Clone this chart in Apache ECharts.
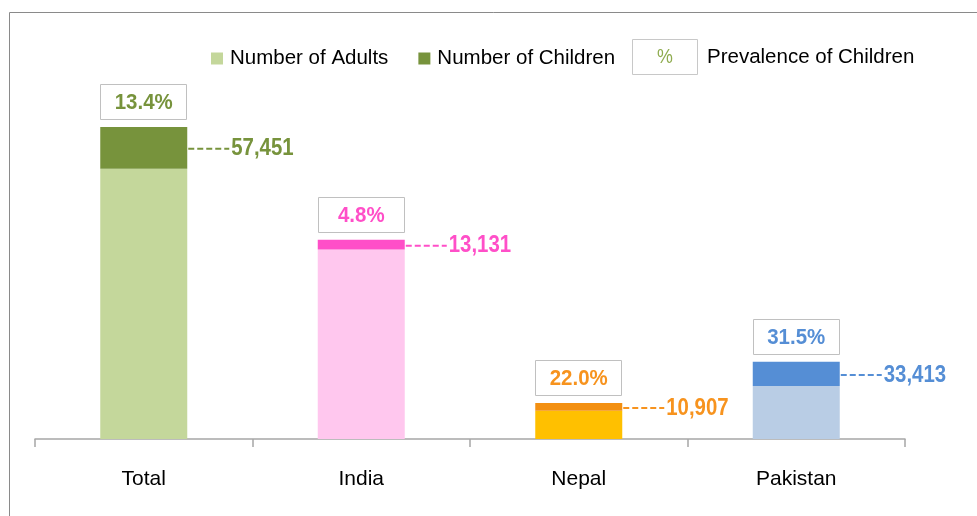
<!DOCTYPE html>
<html>
<head>
<meta charset="utf-8">
<script src="https://cdn.jsdelivr.net/npm/echarts@6/dist/echarts.min.js"></script>
<style>html,body{margin:0;padding:0;background:#fff;}#c{width:977px;height:516px;}</style>
</head>
<body>
<div id="c"></div>
<script>
var categories = ['Total', 'India', 'Nepal', 'Pakistan'];
var adults = [371288, 260432, 38670, 72660];
var children = [57451, 13131, 10907, 33413];
var prevalence = [13.4, 4.8, 22.0, 31.5];
var adultColors = ['#c4d79b', '#ffc7ee', '#ffc000', '#b9cde5'];
var childColors = ['#77933c', '#ff4fc8', '#f39012', '#558ed5'];
var labelColors = ['#77933c', '#ff4fc8', '#f7931e', '#558ed5'];

var FONT = '"Liberation Sans", Arial, sans-serif';
var chart = echarts.init(document.getElementById('c'));
function fmt(v){ return v.toLocaleString('en-US'); }

var option = {
  animation: false,
  backgroundColor: '#fff',
  grid: { left: 35, right: 72, top: 75, bottom: 77 },
  legend: {
    left: 211, top: 48, padding: 0,
    itemWidth: 12, itemHeight: 12, itemGap: 30,
    icon: 'rect',
    textStyle: { fontFamily: FONT, fontSize: 20.5, color: '#000', padding: [0, 0, 0, 2] },
    data: ['Number of Adults', 'Number of Children']
  },
  xAxis: {
    type: 'category',
    data: categories,
    axisLine: { show: true, lineStyle: { color: '#a6a6a6', width: 1.5 } },
    axisTick: { show: true, length: 8, lineStyle: { color: '#a6a6a6', width: 1.5 } },
    axisLabel: { fontFamily: FONT, fontSize: 21, color: '#000', margin: 30 }
  },
  yAxis: { type: 'value', min: 0, max: 500000, show: false, splitLine: { show: false } },
  graphic: [
    { type: 'rect', shape: { x: 9.5, y: 12.5, width: 1000, height: 1000 }, style: { fill: 'none', stroke: '#8a8a8a', lineWidth: 1 }, silent: true },
    { type: 'rect', shape: { x: 632.5, y: 39.5, width: 65, height: 35 }, style: { fill: '#fff', stroke: '#c8c8c8', lineWidth: 1 } },
    { type: 'text', x: 665, y: 57, scaleX: 0.85, style: { text: '%', x: 0, y: 0, align: 'center', verticalAlign: 'middle', fill: '#8fac4f', font: '21px ' + FONT } },
    { type: 'text', style: { text: 'Prevalence of Children', x: 707, y: 57, verticalAlign: 'middle', fill: '#000', font: '20.5px ' + FONT } }
  ],
  series: [
    {
      name: 'Number of Adults', type: 'bar', stack: 's', barWidth: '40%',
      itemStyle: { color: adultColors[0] },
      data: adults.map(function(v, i){ return { value: v, itemStyle: { color: adultColors[i] } }; })
    },
    {
      name: 'Number of Children', type: 'bar', stack: 's', barWidth: '40%',
      itemStyle: { color: childColors[0] },
      data: children.map(function(v, i){ return { value: v, itemStyle: { color: childColors[i] } }; })
    },
    {
      name: 'labels', type: 'custom', z: 10,
      data: categories.map(function(c, i){ return [i, adults[i], children[i], prevalence[i]]; }),
      renderItem: function(params, api){
        var i = api.value(0);
        var a = api.value(1), ch = api.value(2);
        var top = api.coord([i, a + ch]);
        var mid = api.coord([i, a + ch / 2]);
        var bw = api.size([1, 0])[0] * 0.4;
        var x0 = Math.round(top[0] - bw / 2) + 0.5, x1 = top[0] + bw / 2;
        var c = labelColors[i];
        var ty = Math.round(top[1] - 43) + 0.5;
        var ly = mid[1] + 1;
        return { type: 'group', children: [
          { type: 'rect', shape: { x: x0, y: ty, width: Math.round(bw) - 1, height: 35 }, style: { fill: '#fff', stroke: '#c0c0c0', lineWidth: 1 } },
          { type: 'text', x: top[0], y: ty + 18, scaleX: 0.93, style: { text: prevalence[i].toFixed(1) + '%', x: 0, y: 0, align: 'center', verticalAlign: 'middle', fill: c, font: 'bold 22px ' + FONT } },
          { type: 'line', shape: { x1: x1 + 1, y1: ly, x2: x1 + 42, y2: ly }, style: { stroke: c, lineDash: [6, 3], lineWidth: 2 } },
          { type: 'text', x: x1 + 44, y: ly, scaleX: 0.85, style: { text: fmt(children[i]), x: 0, y: 0, verticalAlign: 'middle', fill: c, font: 'bold 24px ' + FONT } }
        ] };
      }
    }
  ]
};
chart.setOption(option);
</script>
</body>
</html>
